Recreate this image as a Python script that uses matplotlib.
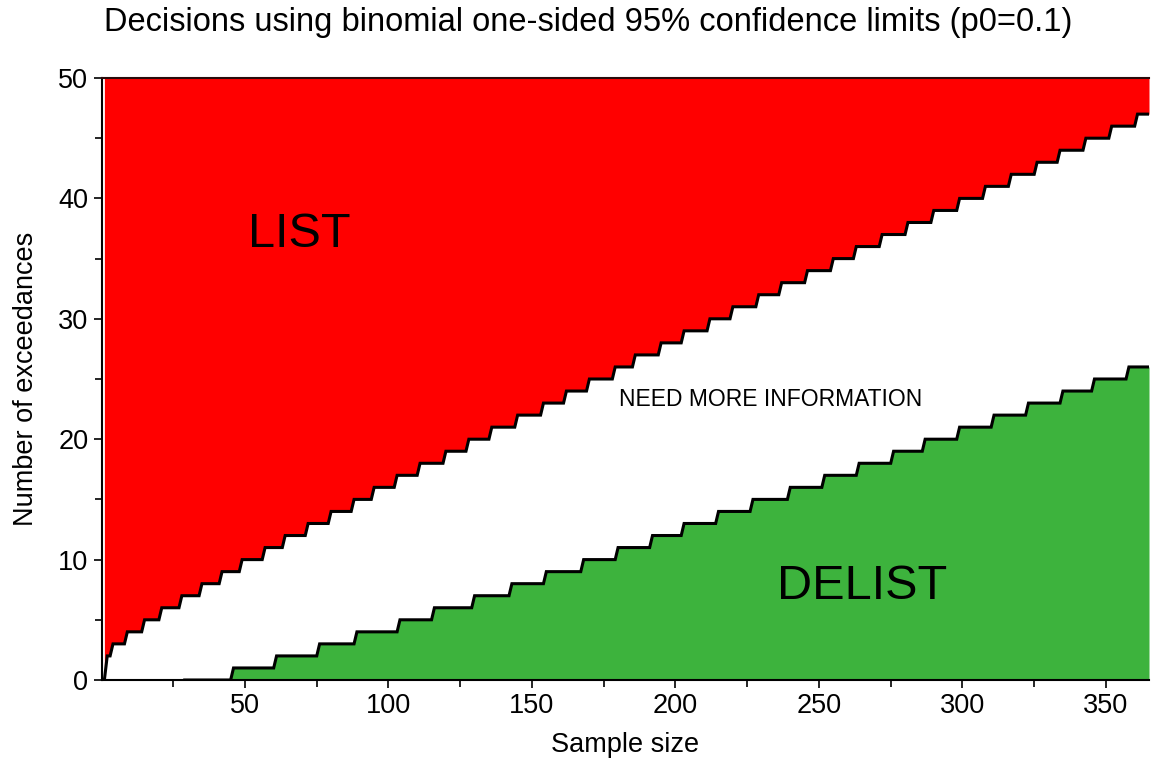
import matplotlib.pyplot as plt
import numpy as np
from matplotlib.ticker import FixedLocator

plt.rcParams['font.family'] = ['Liberation Sans', 'DejaVu Sans']

N_MAX = 365

# upper limit: first sample size at which each exceedance count is reached
list_n = [1, 2, 4, 9, 15, 21, 28, 35, 42, 49, 57, 64, 72, 80, 88, 95, 103,
          111, 120, 128, 136, 145, 154, 162, 170, 179, 186, 195, 203, 212,
          220, 229, 237, 246, 255, 263, 272, 281, 290, 299, 308, 317, 326,
          334, 343, 352, 361]
list_k = [0, 2, 3, 4, 5, 6, 7, 8, 9, 10, 11, 12, 13, 14, 15, 16, 17, 18,
          19, 20, 21, 22, 23, 24, 25, 26, 27, 28, 29, 30, 31, 32, 33, 34,
          35, 36, 37, 38, 39, 40, 41, 42, 43, 44, 45, 46, 47]

# lower limit
delist_n = [29, 46, 61, 76, 89, 104, 116, 130, 143, 155, 168, 180, 192, 203,
            215, 227, 240, 252, 264, 276, 287, 299, 311, 323, 335, 346, 358]
delist_k = [0, 1, 2, 3, 4, 5, 6, 7, 8, 9, 10, 11, 12, 13, 14, 15, 16, 17,
            18, 19, 20, 21, 22, 23, 24, 25, 26]


def expand(change_n, change_k, n):
    idx = np.searchsorted(change_n, n, side='right') - 1
    out = np.array(change_k, dtype=float)[np.clip(idx, 0, None)]
    out[idx < 0] = np.nan
    return out


n = np.arange(1, N_MAX + 1)
k_up = expand(list_n, list_k, n)
k_lo = expand(delist_n, delist_k, n)
has_lo = ~np.isnan(k_lo)

fig = plt.figure(figsize=(11.51, 7.63), dpi=100)
ax = fig.add_axes([101.5 / 1151, 1 - 680 / 763, (1149 - 101.5) / 1151, (680 - 78) / 763])

ax.fill_between(n, k_up, 50, color='#ff0000', linewidth=0)
ax.fill_between(n[has_lo], 0, k_lo[has_lo], color='#3db33d', linewidth=0)
ax.plot(n, k_up, color='black', lw=2.2, solid_joinstyle='miter')
ax.plot(n[has_lo], k_lo[has_lo], color='black', lw=2.2, solid_joinstyle='miter')

ax.text(69, 37, 'LIST', fontsize=35, ha='center', va='center')
ax.text(265, 7.8, 'DELIST', fontsize=35, ha='center', va='center')
ax.text(233, 23.3, 'NEED MORE INFORMATION', fontsize=16.5, ha='center', va='center')

ax.set_xlim(0, N_MAX)
ax.set_ylim(0, 50)
ax.xaxis.set_major_locator(FixedLocator([50, 100, 150, 200, 250, 300, 350]))
ax.xaxis.set_minor_locator(FixedLocator([25, 75, 125, 175, 225, 275, 325]))
ax.yaxis.set_major_locator(FixedLocator([0, 10, 20, 30, 40, 50]))
ax.yaxis.set_minor_locator(FixedLocator([5, 15, 25, 35, 45]))
ax.tick_params(which='both', direction='out', width=1.2, labelsize=19.5)
ax.tick_params(which='major', length=6)
ax.tick_params(which='minor', length=5)

for side in ['left', 'bottom', 'top']:
    ax.spines[side].set_linewidth(1.5)
ax.spines['top'].set_color('#2a0a0a')
ax.spines['right'].set_visible(False)

ax.set_xlabel('Sample size', fontsize=19.5, labelpad=9)
ax.set_ylabel('Number of exceedances', fontsize=19.5, labelpad=14)
fig.text(588 / 1151, 1 - 23 / 763, 'Decisions using binomial one-sided 95% confidence limits (p0=0.1)',
         fontsize=23.5, ha='center', va='center')

fig.savefig('out.png', dpi=100)
